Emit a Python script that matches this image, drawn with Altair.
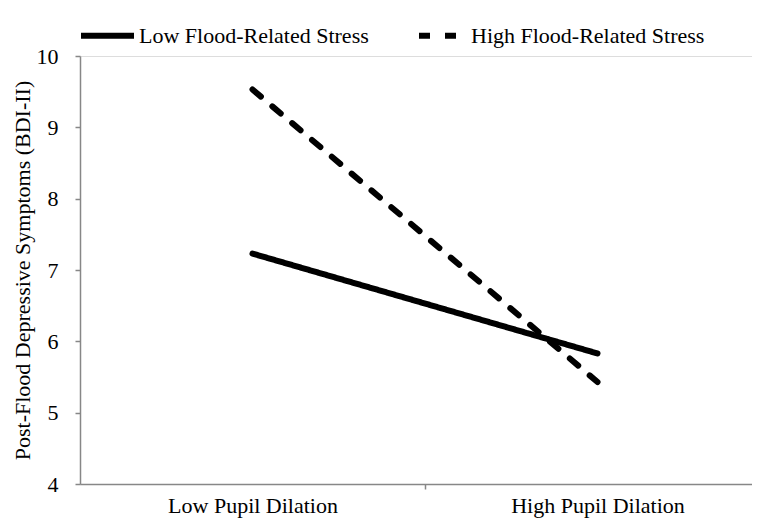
import altair as alt
import pandas as pd

dilation = ["Low Pupil Dilation", "High Pupil Dilation"]
stress_groups = ["Low Flood-Related Stress", "High Flood-Related Stress"]
low_stress = [7.23, 5.83]
high_stress = [9.53, 5.43]

rows = []
for i, d in enumerate(dilation):
    rows.append({"dilation": d, "idx": i, "group": stress_groups[0], "bdi": low_stress[i]})
    rows.append({"dilation": d, "idx": i, "group": stress_groups[1], "bdi": high_stress[i]})
df = pd.DataFrame(rows)

FONT = "Liberation Serif"
AXC = "#878787"

label_expr = (
    f"datum.value == 0 ? '{dilation[0]}' : datum.value == 1 ? '{dilation[1]}' : ''"
)

chart = (
    alt.Chart(df)
    .mark_line(color="black", strokeWidth=6, strokeCap="round")
    .encode(
        x=alt.X(
            "idx:Q",
            scale=alt.Scale(domain=[-0.5, 1.4478], nice=False, zero=False),
            axis=alt.Axis(
                title=None,
                values=[0, 0.5, 1],
                labelExpr=label_expr,
                tickOpacity={"expr": "datum.value == 0.5 ? 1 : 0"},
                tickSize=5,
                labelPadding=6,
                grid=False,
                domainColor=AXC,
                tickColor=AXC,
                domainWidth=1.5,
                tickWidth=1.5,
                labelFont=FONT,
                labelFontSize=22,
                labelColor="black",
            ),
        ),
        y=alt.Y(
            "bdi:Q",
            scale=alt.Scale(domain=[4, 10], nice=False, zero=False),
            axis=alt.Axis(
                title="Post-Flood Depressive Symptoms (BDI-II)",
                values=[4, 5, 6, 7, 8, 9, 10],
                tickSize=5,
                labelPadding=17,
                grid=False,
                domainColor=AXC,
                tickColor=AXC,
                domainWidth=1.5,
                tickWidth=1.5,
                labelFont=FONT,
                labelFontSize=22,
                labelColor="black",
                titleFont=FONT,
                titleFontSize=22,
                titleFontWeight="normal",
                titleColor="black",
                titlePadding=2,
            ),
        ),
        strokeDash=alt.StrokeDash(
            "group:N",
            sort=stress_groups,
            scale=alt.Scale(domain=stress_groups, range=[[1, 0], [11, 15]]),
            legend=alt.Legend(
                title=None,
                orient="none",
                legendX=-2,
                legendY=-50,
                direction="horizontal",
                symbolType="stroke",
                symbolSize=2809,
                symbolStrokeWidth=6,
                symbolStrokeColor="black",
                symbolDashOffset=20,
                labelFont=FONT,
                labelFontSize=22,
                labelColor="black",
                labelOffset=2,
                labelLimit=500,
                columnPadding=32,
                padding=0,
            ),
        ),
        detail="group:N",
    )
    .properties(
        width=672,
        height=428,
        autosize=alt.AutoSizeParams(type="none"),
        padding={"left": 72, "top": 48, "right": 0, "bottom": 36},
    )
    .configure_view(stroke=None)
    .configure(background="white")
)

chart.save("out.html", embed_options={"renderer": "svg", "actions": False})
